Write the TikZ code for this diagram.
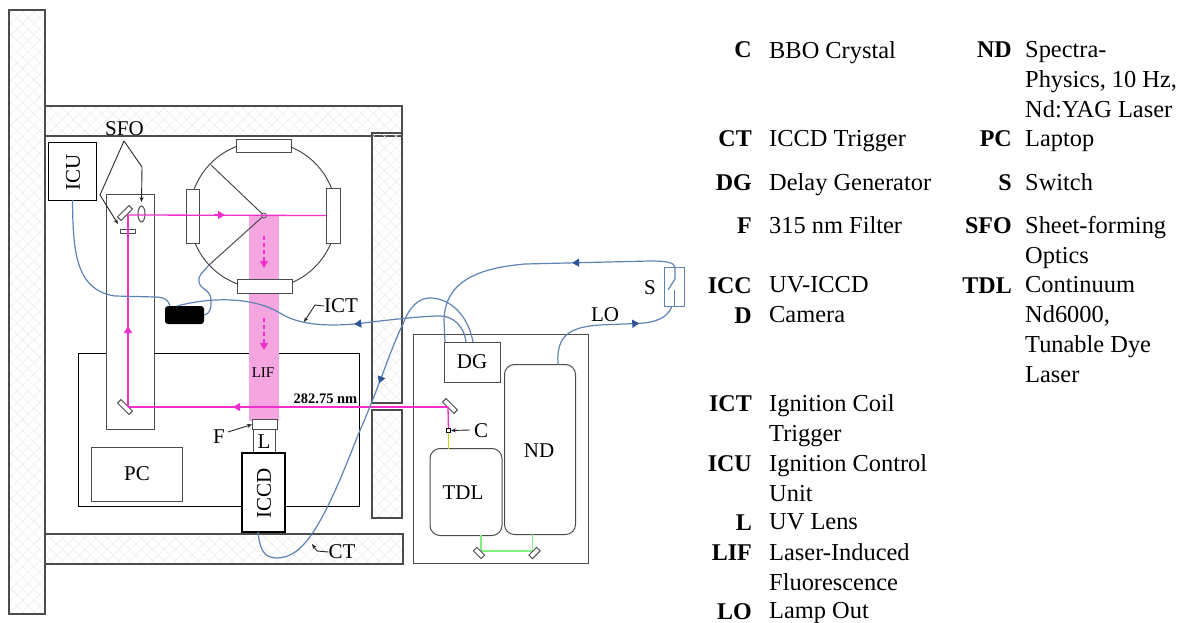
\documentclass[tikz,border=0pt]{standalone}
\usepackage{fontspec}
\setmainfont{Liberation Serif}
\usetikzlibrary{arrows.meta,patterns.meta,decorations.markings,shapes.geometric}
\definecolor{beammag}{HTML}{F030C8}
\definecolor{sheetpink}{HTML}{F5A5E0}
\definecolor{cableblue}{HTML}{5F82B4}
\definecolor{tipblue}{HTML}{2F5597}
\definecolor{greenbeam}{HTML}{80F080}
\definecolor{yellowbeam}{HTML}{C8E000}
\tikzset{
  box/.style={draw=black!70,line width=1pt,fill=white,inner sep=0pt,outer sep=0pt,font=\fontsize{21}{24}\selectfont},
  wall/.style={draw=black!70,line width=1.1pt,inner sep=0pt,outer sep=0pt,pattern={Hatch[angle=45,distance=8pt,line width=0.4pt]},pattern color=black!9},
  lab/.style={inner sep=0pt,outer sep=0pt,font=\fontsize{21}{24}\selectfont},
  legkey/.style={anchor=base east,inner sep=0pt,font=\fontsize{24}{30}\selectfont\bfseries},
  legdesc/.style={anchor=north west,inner sep=0pt,yshift=1pt,align=left,font=\fontsize{24.4}{30}\selectfont},
  beam/.style={draw=beammag,line width=1.3pt},
  beamtip/.style={-{Triangle[length=7pt,width=8pt]},beammag,line width=1.3pt},
  cable/.style={draw=cableblue,line width=1.2pt},
  leader/.style={-{Stealth[length=5pt,width=4pt]},black!85,line width=0.9pt},
  onarrow/.style={postaction={decorate},decoration={markings,mark=at position #1 with {\arrow{Triangle[length=7pt,width=8pt,tipblue]}}}}
}
\begin{document}
\begin{tikzpicture}[x=1pt,y=-1pt]
  \useasboundingbox (0,0) rectangle (1181,623);
  % walls
  \node[wall,minimum width=36,minimum height=604] (wallleft) at (27,312) {};
  \node[wall,minimum width=357,minimum height=30] (walltop) at (223.5,121) {};
  \node[wall,minimum width=358,minimum height=30] (wallbottom) at (224,549) {};
  \node[wall,minimum width=30,minimum height=270] (wallright) at (387,268) {};
  \node[wall,minimum width=30,minimum height=108] (wallrightb) at (387,464) {};
  % tables
  \node[box,draw=black,minimum width=281,minimum height=153] (table) at (218.5,429.5) {};
  \node[box,draw=black!70,minimum width=175,minimum height=229] (lasertable) at (501,448.5) {};
  \node[box,minimum width=91,minimum height=54] (pc) at (137,474) {PC};
  \node[box,minimum width=48,minimum height=235] (rail) at (130,311.5) {};
  \node[box,draw=black,minimum width=48,minimum height=57] (icu) at (72.5,171.5) {};
  \node[lab,rotate=90] (icutext) at (73,172) {ICU};
  % chamber
  \node[draw=sheetpink,fill=sheetpink,inner sep=0pt,minimum width=29,minimum height=204] (sheet) at (263.5,318) {};
  \node[circle,draw=black!70,line width=1pt,inner sep=0pt,minimum size=147] (chamber) at (263,215) {};
  \node[box,minimum width=55,minimum height=13] (wintop) at (263.5,146.5) {};
  \node[box,minimum width=55,minimum height=14] (winbottom) at (264.5,286) {};
  \node[box,minimum width=13,minimum height=54] (winleft) at (192.5,216) {};
  \node[box,minimum width=14,minimum height=55] (winright) at (333.5,215.5) {};
  \coordinate (probeup) at (211,165);
  \coordinate (probedown) at (209,265);
  \node[circle,draw=black!70,line width=0.8pt,inner sep=0pt,minimum size=5] (spot) at (264,215.5) {};
  \draw[black!70,line width=1pt] (spot) -- (probeup);
  \draw[black!70,line width=1pt] (spot) -- (probedown);
  % optics on the rail
  \node[box,minimum width=16,minimum height=5,rotate=45] (mirtop) at (125,213) {};
  \node[box,minimum width=15,minimum height=4] (sfofilter) at (127.5,231) {};
  \node[draw=black!70,line width=1pt,ellipse,inner sep=0pt,minimum width=7,minimum height=16] (lens) at (141.5,214) {};
  \node[box,minimum width=16,minimum height=5,rotate=-45] (mirlow) at (125,407) {};
  \node[box,minimum width=16,minimum height=5,rotate=-45] (mirout) at (450,406) {};
  % beams
  \coordinate (bendtop) at (128,215);
  \coordinate (bendlow) at (128,407);
  \coordinate (bendout) at (448,407);
  \node[draw=black,fill=white,line width=0.8pt,inner sep=0pt,minimum size=4] (crystal) at (448.5,430.5) {};
  \draw[beam] (bendtop) -- (winright.west);
  \draw[beam] (bendlow) -- (bendtop);
  \draw[beam] (bendout) -- (bendlow);
  \draw[beam] (bendout) -- (crystal);
  \draw[beamtip] (214,215) -- (225,215);
  \draw[beamtip] (128,336) -- (128,326);
  \draw[beamtip] (246,407) -- (233,407);
  \draw[beamtip,dash pattern=on 4pt off 3pt] (264,236) -- (264,268);
  \draw[beamtip,dash pattern=on 4pt off 3pt] (264,318) -- (264,350);
  \node[lab,font=\fontsize{15}{18}\selectfont] (lif) at (263,373) {LIF};
  \node[lab,font=\fontsize{14.5}{18}\selectfont\bfseries] (wavelength) at (325.5,399) {282.75 nm};
  % camera
  \node[box,minimum width=25,minimum height=9.5] (filter) at (264.5,424.5) {};
  \node[box,minimum width=22,minimum height=24] (lens2) at (264,441.5) {L};
  \node[box,draw=black,line width=1.7pt,minimum width=43,minimum height=79] (iccd) at (263.5,492.5) {};
  \node[lab,rotate=90] (iccdtext) at (264,493) {ICCD};
  \node[lab] (ftext) at (219,437) {F};
  \draw[leader] (228,432) -- (filter.west);
  % laser table
  \node[box,minimum width=56,minimum height=40] (dg) at (472,362) {DG};
  \node[box,rounded corners=10pt,minimum width=71,minimum height=170] (nd) at (540,449.5) {};
  \node[lab] (ndtext) at (539,451) {ND};
  \node[box,rounded corners=10pt,minimum width=72,minimum height=87] (tdl) at (466,492) {};
  \node[lab] (tdltext) at (463,493) {TDL};
  \node[lab] (ctext) at (481,431) {C};
  \draw[leader] (470,430) -- (crystal.east);
  \draw[yellowbeam,line width=1.2pt] (crystal) -- (crystal|-tdl.north);
  \coordinate (greentl) at (481,535);
  \coordinate (greentr) at (532.5,534);
  \draw[greenbeam,line width=1.1pt] (greentl) -- (481,551) -- (532.5,551) -- (greentr);
  \node[box,minimum width=11,minimum height=5,rotate=-45] (mirgl) at (479,553) {};
  \node[box,minimum width=11,minimum height=5,rotate=45] (mirgr) at (534.5,553) {};
  % black box and cables
  \node[fill=black,rounded corners=3pt,inner sep=0pt,minimum width=39,minimum height=18] (blackbox) at (184.5,315) {};
  \node[draw=cableblue,line width=1pt,inner sep=0pt,minimum width=20,minimum height=39] (switch) at (674,286.5) {};
  \node[lab] (stext) at (650,288) {S};
  \node[lab] (lotext) at (605,315) {LO};
  \coordinate (swtop) at (675,267);
  \coordinate (swmid) at (675,279);
  \coordinate (swarm) at (668,290);
  \coordinate (swlow) at (674.5,290);
  \coordinate (swbot) at (674.5,306);
  \coordinate (ndout) at (558,364.5);
  \draw[cable] (swtop) -- (swmid) -- (swarm);
  \draw[cable] (swlow) -- (swbot);
  \draw[cable,onarrow=0.37] (swtop) .. controls (674,262) and (665,261) .. (650,261) -- (525,264) .. controls (480,268) and (445,280) .. (444,320) -- (445,342);
  \draw[cable,onarrow=0.73] (ndout) .. controls (556,335) and (570,327) .. (600,325) -- (636,323.5) .. controls (655,323) and (668,318) .. (672,306);
  \draw[cable,onarrow=0.41] (473,342) .. controls (468,315) and (450,298) .. (430,298) .. controls (420,298) and (410,305) .. (403,324) .. controls (392,345) and (380,385) .. (358,435) .. controls (325,520) and (305,558) .. (277,558) .. controls (264,558) and (260,550) .. (258,532);
  \draw[cable,onarrow=0.41] (466,342) .. controls (464,325) and (452,316) .. (440,316) .. controls (420,316) and (380,321) .. (355,324) .. controls (330,326) and (300,326) .. (280,313) .. controls (255,298) and (215,296) .. (177,306);
  \draw[cable] (icu.south) .. controls (73,250) and (75,290) .. (115,296) -- (155,297) .. controls (165,297) and (168,300) .. (170,306);
  \draw[cable] (blackbox.east) .. controls (212,313) and (211,305) .. (211,300) .. controls (211,288) and (197,290) .. (199,278) .. controls (200,274) and (205,270) .. (probedown);
  % labels with leaders
  \node[lab] (ictext) at (341,306) {ICT};
  \node[lab] (cttext) at (342,552) {CT};
  \node[lab] (sfotext) at (124.5,129) {SFO};
  \coordinate (sfoapex) at (124,141);
  \draw[leader] (ictext.west) -- (315,305) -- (304,322);
  \draw[leader] (cttext.west) -- (317,551) -- (312,544);
  \draw[leader] (sfoapex) -- (142,167) -- (141.5,202);
  \draw[leader] (sfoapex) -- (100,195) -- (118,224);
  % legend
  \node[legkey] (kc) at (752,58) {C};
  \node[legdesc] (dc) at (769,42) {BBO Crystal};
  \node[legkey] (kct) at (752,147) {CT};
  \node[legdesc] (dct) at (769,131) {ICCD Trigger};
  \node[legkey] (kdg) at (752,190) {DG};
  \node[legdesc] (ddg) at (769,174) {Delay Generator};
  \node[legkey] (kf) at (752,233) {F};
  \node[legdesc] (df) at (769,217) {315 nm Filter};
  \node[legkey] (kicc) at (752,293) {ICC};
  \node[legdesc] (dicc) at (769,277) {UV-ICCD};
  \node[legkey] (kd) at (752,323) {D};
  \node[legdesc] (dd) at (769,307) {Camera};
  \node[legkey] (kict) at (752,411) {ICT};
  \node[legdesc] (dict) at (769,395) {Ignition Coil\\Trigger};
  \node[legkey] (kicu) at (752,471) {ICU};
  \node[legdesc] (dicu) at (769,455) {Ignition Control\\Unit};
  \node[legkey] (kl) at (752,530) {L};
  \node[legdesc] (dl) at (769,514) {UV Lens};
  \node[legkey] (klif) at (752,560) {LIF};
  \node[legdesc] (dlif) at (769,544) {Laser-Induced\\Fluorescence};
  \node[legkey] (klo) at (752,619) {LO};
  \node[legdesc] (dlo) at (769,603) {Lamp Out};
  \node[legkey] (knd) at (1012,58) {ND};
  \node[legdesc] (dnd) at (1025,42) {Spectra-\\Physics, 10 Hz,\\Nd:YAG Laser};
  \node[legkey] (kpc) at (1012,147) {PC};
  \node[legdesc] (dpc) at (1025,131) {Laptop};
  \node[legkey] (ks) at (1012,190) {S};
  \node[legdesc] (ds) at (1025,174) {Switch};
  \node[legkey] (ksfo) at (1012,233) {SFO};
  \node[legdesc] (dsfo) at (1025,217) {Sheet-forming\\Optics};
  \node[legkey] (ktdl) at (1012,293) {TDL};
  \node[legdesc] (dtdl) at (1025,277) {Continuum\\Nd6000,\\Tunable Dye\\Laser};
\end{tikzpicture}
\end{document}
